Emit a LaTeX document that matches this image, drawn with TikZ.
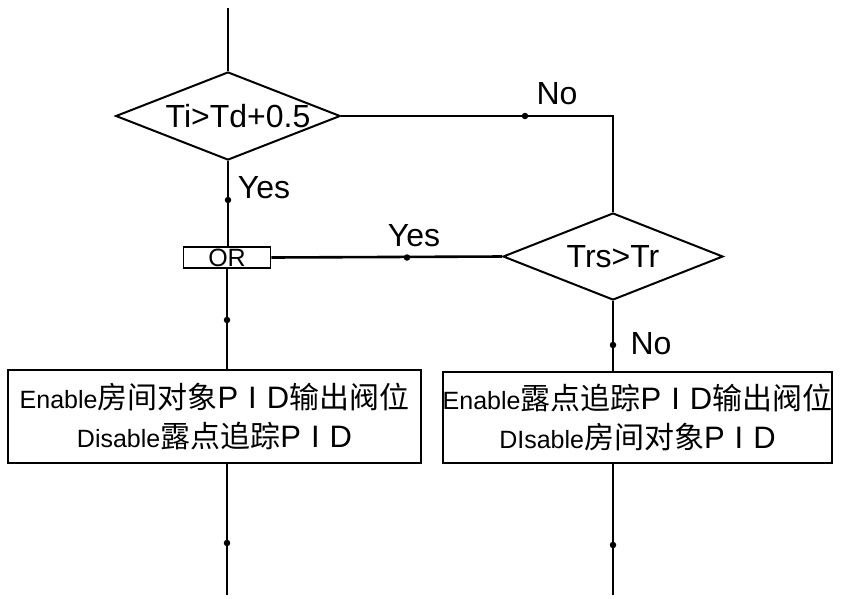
\documentclass[tikz,border=0pt]{standalone}
\usepackage{fontspec}
\setmainfont{Liberation Sans}
\newfontfamily\cjk{Noto Sans CJK SC}
\usetikzlibrary{shapes.geometric}
\newcommand\latfont{\fontsize{25pt}{39pt}\selectfont}
\newcommand\hanz[1]{{\cjk\fontsize{30pt}{30pt}\selectfont #1}}
\newcommand\pidtxt{{\fontsize{31pt}{31pt}\selectfont P\hspace{10pt}I\hspace{10pt}D}}
\begin{document}
\begin{tikzpicture}[x=1pt,y=-1pt,
  flow/.style={line width=2.6pt},
  dec/.style={diamond, draw, line width=2pt, inner sep=0pt, font=\fontsize{32pt}{32pt}\selectfont},
  act/.style={draw, line width=1.6pt, inner sep=0pt, align=center, font=\latfont},
  orstyle/.style={draw, line width=1.6pt, inner sep=0pt, minimum width=87pt, minimum height=21pt, font=\fontsize{25pt}{25pt}\selectfont},
  lbl/.style={font=\fontsize{32pt}{32pt}\selectfont, inner sep=0pt},
  dot/.style={circle, fill, inner sep=0pt, minimum size=6.5pt}]
\useasboundingbox (0,0) rectangle (842,598);
% decisions
\node[dec, shape aspect=2.55, minimum width=224pt, minimum height=88pt] (d1) at (228,116) {\hspace{20pt}Ti>Td+0.5};
\node[dec, shape aspect=2.53, minimum width=220pt, minimum height=87pt] (d2) at (613,256.5) {Trs>Tr};
% OR gate
\node[orstyle] (orb) at (227,257.5) {OR};
% action boxes
\node[act, minimum width=413pt, minimum height=93pt] (b1) at (214.5,416.5)
  {Enable\hanz{房间对象}\pidtxt\hanz{输出阀位}\\
   Disable\hanz{露点追踪}\pidtxt};
\node[act, minimum width=389pt, minimum height=91pt] (b2) at (637.5,417.5)
  {Enable\hanz{露点追踪}\pidtxt\hanz{输出阀位}\\
   DIsable\hanz{房间对象}\pidtxt};
% free ends
\coordinate (top) at (228,8);
\coordinate (e1) at (227,595);
\coordinate (e2) at (613,595);
% connectors
\draw[flow] (top) -- (d1.north);
\draw[flow] (d1.south) -- (d1.south |- orb.north);
\draw[flow] (d1.east) -- (d1.east -| d2.north) -- (d2.north);
\draw[flow] (d2.west) -- (orb.east);
\draw[flow] (orb.south) -- (orb.south |- b1.north);
\draw[flow] (d2.south) -- (d2.south |- b2.north);
\draw[flow] (orb.south |- b1.south) -- (e1);
\draw[flow] (d2.south |- b2.south) -- (e2);
% markers on lines
\node[dot] (m1) at (525,116) {};
\node[dot] (m2) at (407,257.5) {};
\node[dot] (m3) at (228,200) {};
\node[dot] (m4) at (227,320) {};
\node[dot] (m5) at (613,345) {};
\node[dot] (m6) at (227,543) {};
\node[dot] (m7) at (613,545) {};
% labels
\node[lbl] (no1) at (557,94) {No};
\node[lbl] (yes1) at (264,188) {Yes};
\node[lbl] (yes2) at (414,236) {Yes};
\node[lbl] (no2) at (651,344) {No};
\end{tikzpicture}
\end{document}
